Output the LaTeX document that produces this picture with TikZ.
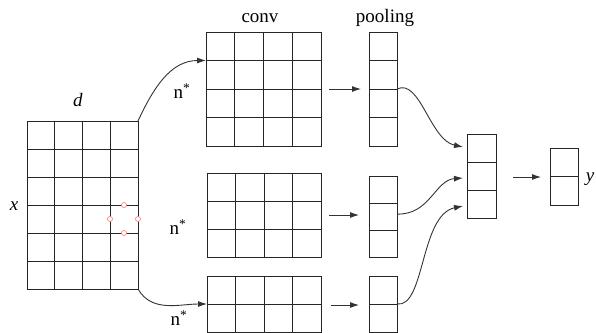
\documentclass[tikz,border=0pt]{standalone}
\usepackage{fontspec}
\setmainfont{Liberation Serif}
\usetikzlibrary{calc,arrows.meta}
\tikzset{
  gridbox/.style={draw=black!85, line width=1pt, rectangle, inner sep=0pt, outer sep=0pt},
  gridline/.style={draw=black!85, line width=1pt},
  conn/.style={draw=black!80, line width=0.9pt, -{Latex[length=9pt,width=6pt]}},
  lbl/.style={font=\fontsize{19}{20}\selectfont, inner sep=0pt},
  redc/.style={circle, draw=red!55, line width=0.6pt, fill=white, minimum size=5pt, inner sep=0pt}
}
\newcommand\gridv[2]{\foreach \i in {1,...,#2}{\draw[gridline] ($(#1.north west)!\i/#2!(#1.north east)$) -- ($(#1.south west)!\i/#2!(#1.south east)$);}}
\newcommand\gridh[2]{\foreach \i in {1,...,#2}{\draw[gridline] ($(#1.north west)!\i/#2!(#1.south west)$) -- ($(#1.north east)!\i/#2!(#1.south east)$);}}
\begin{document}
\begin{tikzpicture}[x=1pt,y=-1pt]
\useasboundingbox (0,0) rectangle (596,332);
% grids
\node[gridbox, minimum width=111pt, minimum height=168pt] (L) at (82.5,205) {};
\gridv{L}{4}\gridh{L}{6}
\node[gridbox, minimum width=115pt, minimum height=114pt] (C1) at (263.5,89) {};
\gridv{C1}{4}\gridh{C1}{4}
\node[gridbox, minimum width=28pt, minimum height=114pt] (P1) at (383,89) {};
\gridh{P1}{4}
\node[gridbox, minimum width=114pt, minimum height=84pt] (C2) at (264,215) {};
\gridv{C2}{4}\gridh{C2}{3}
\node[gridbox, minimum width=28pt, minimum height=81pt] (P2) at (383,216.5) {};
\gridh{P2}{3}
\node[gridbox, minimum width=114pt, minimum height=56pt] (C3) at (264,304) {};
\gridv{C3}{4}\gridh{C3}{2}
\node[gridbox, minimum width=28pt, minimum height=56pt] (P3) at (383,304) {};
\gridh{P3}{2}
\node[gridbox, minimum width=29pt, minimum height=84pt] (K) at (481.5,176) {};
\gridh{K}{3}
\node[gridbox, minimum width=28pt, minimum height=57pt] (O) at (564,176.5) {};
\gridh{O}{2}
% red circles
\node[redc] (r1) at (124,205) {};
\node[redc] (r2) at (110,219) {};
\node[redc] (r3) at (138,219) {};
\node[redc] (r4) at (124,233) {};
% labels
\node[lbl] (ld) at (78,100) {\textit{d}};
\node[lbl] (lx) at (14,206) {\textit{x}};
\node[lbl] (lconv) at (260,18) {conv};
\node[lbl] (lpool) at (385,18) {pooling};
\node[lbl] (n1) at (182,91) {n\textsuperscript{*}};
\node[lbl] (n2) at (178,227) {n\textsuperscript{*}};
\node[lbl] (n3) at (179,318) {n\textsuperscript{*}};
\node[lbl] (ly) at (590,179) {\textit{y}};
% connectors
\coordinate (c1in) at ($(C1.north west)!0.25!(C1.south west)$);
\coordinate (c3in) at ($(C3.north west)!0.5!(C3.south west)$);
\draw[conn] (L.north east) to[out=65,in=180] (c1in);
\draw[conn] (L.south east) to[out=-60,in=180] (c3in);
\coordinate (a1s) at (329,89); \coordinate (a1e) at (361,89);
\coordinate (a2s) at (329,215); \coordinate (a2e) at (359,215);
\coordinate (a3s) at (331,305); \coordinate (a3e) at (359,305);
\draw[conn] (a1s) -- (a1e);
\draw[conn] (a2s) -- (a2e);
\draw[conn] (a3s) -- (a3e);
\coordinate (p1o) at ($(P1.north east)!0.5!(P1.south east)$);
\coordinate (p2o) at ($(P2.north east)!0.47!(P2.south east)$);
\coordinate (p3o) at ($(P3.north east)!0.5!(P3.south east)$);
\coordinate (k1) at (463,147);
\coordinate (k2) at (463,178);
\coordinate (k3) at (463,206);
\draw[conn] (p1o) .. controls (420,78) and (430,140) .. (k1);
\draw[conn] (p2o) .. controls (430,215) and (435,180) .. (k2);
\draw[conn] (p3o) .. controls (425,308) and (420,215) .. (k3);
\coordinate (ks) at (513,177); \coordinate (ke) at (541,177);
\draw[conn] (ks) -- (ke);
\end{tikzpicture}
\end{document}
